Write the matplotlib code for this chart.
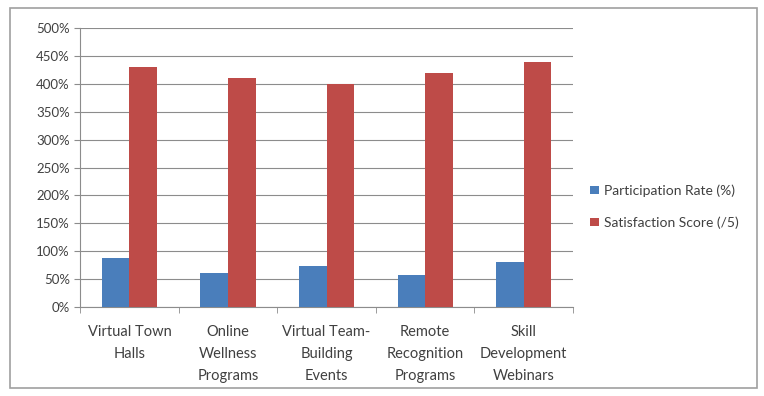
import numpy as np
from matplotlib import pyplot as plt
from matplotlib.patches import Rectangle
from matplotlib.ticker import FuncFormatter

categories = ['Virtual Town\nHalls', 'Online\nWellness\nPrograms', 'Virtual Team-\nBuilding\nEvents',
              'Remote\nRecognition\nPrograms', 'Skill\nDevelopment\nWebinars']
participation = [88, 60, 73, 58, 80]
satisfaction = [430, 410, 400, 420, 440]

plt.rcParams['font.family'] = ['Lato', 'DejaVu Sans']

fig = plt.figure(figsize=(7.64, 3.96), dpi=100)
fig.patches.append(Rectangle((0.013, 0.02), 0.978, 0.96, transform=fig.transFigure,
                             fill=False, edgecolor='#a0a0a0', linewidth=1.2))
ax = fig.add_axes([0.105, 0.225, 0.645, 0.704])

x = np.arange(len(categories))
w = 0.28
ax.bar(x - w / 2, participation, w, color='#4a7ebb', label='Participation Rate (%)', zorder=3)
ax.bar(x + w / 2, satisfaction, w, color='#be4b48', label='Satisfaction Score (/5)', zorder=3)

ax.set_ylim(0, 500)
ax.set_xlim(-0.5, len(categories) - 0.5)
ax.set_yticks(range(0, 501, 50))
ax.yaxis.set_major_formatter(FuncFormatter(lambda v, p: f'{int(v)}%'))
ax.grid(axis='y', color='#8c8c8c', linewidth=0.8, zorder=0)

ax.set_xticks(x)
ax.set_xticklabels(categories, fontsize=10.5, color='#404040', linespacing=1.75)
ax.set_xticks(np.arange(-0.5, len(categories), 1), minor=True)
ax.tick_params(axis='x', which='major', length=0, pad=13)
ax.tick_params(axis='x', which='minor', length=4, color='#8c8c8c')
ax.tick_params(axis='y', length=4, color='#8c8c8c', labelsize=9.5, labelcolor='#404040')

for s in ['top', 'right']:
    ax.spines[s].set_visible(False)
for s in ['left', 'bottom']:
    ax.spines[s].set_color('#8c8c8c')

ax.legend(loc='center left', bbox_to_anchor=(1.01, 0.36), frameon=False, fontsize=10,
          handlelength=0.6, handleheight=0.6, handletextpad=0.4, labelspacing=1.4,
          labelcolor='#404040')

plt.savefig('out.png', dpi=100)
